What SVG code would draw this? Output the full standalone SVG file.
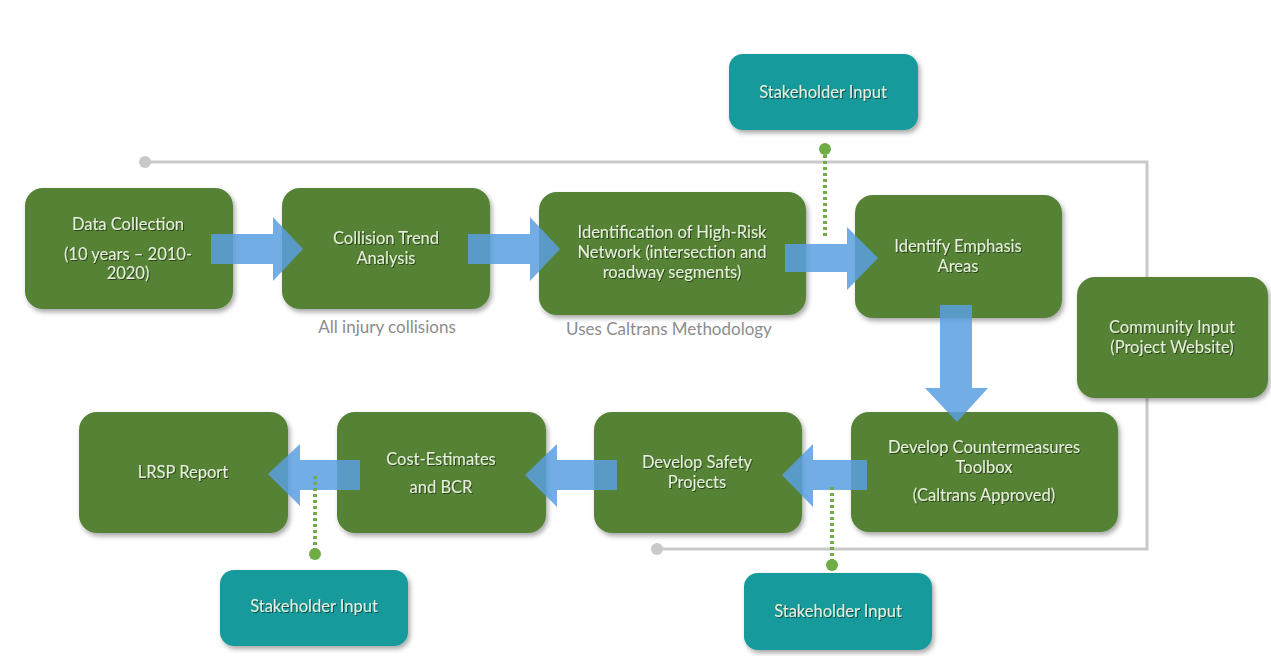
<svg xmlns="http://www.w3.org/2000/svg" width="1271" height="656" viewBox="0 0 1271 656">
<defs>
<filter id="sh" x="-10%" y="-10%" width="130%" height="140%">
<feDropShadow dx="2" dy="3" stdDeviation="2.5" flood-color="#000" flood-opacity="0.35"/>
</filter>
<filter id="ts" x="-5%" y="-20%" width="110%" height="150%">
<feDropShadow dx="1" dy="1" stdDeviation="0.6" flood-color="#000" flood-opacity="0.5"/>
</filter>
</defs>
<style>
.g{fill:#548235;filter:url(#sh)}
.t{fill:#149A9C;filter:url(#sh)}
.lb{font-family:Lato,"Open Sans",sans-serif;font-size:16.5px;fill:#E6F0DC;text-anchor:middle;filter:url(#ts)}
.cap{font-family:Lato,"Open Sans",sans-serif;font-size:17px;fill:#8C8C8C;text-anchor:middle}
.ar{fill:#5B9FE0;fill-opacity:0.85}
.gl{fill:none;stroke:#C9C9C9;stroke-width:3}
.gd{fill:#C9C9C9}
.dl{stroke:#70AD47;stroke-width:4;stroke-dasharray:3 3}
.dd{fill:#70AD47}
</style>
<rect width="1271" height="656" fill="#fff"/>
<g id="connectors">
<polyline class="gl" points="145,162 1147,162 1147,549 657,549"/>
<circle class="gd" cx="145" cy="162" r="6"/>
<circle class="gd" cx="657" cy="549" r="6"/>
</g>
<g id="n1"><rect class="g" x="25" y="188" width="208" height="121" rx="18"/>
<text class="lb" x="128" y="230">Data Collection</text>
<text class="lb" x="128" y="260">(10 years – 2010-</text>
<text class="lb" x="128" y="279">2020)</text></g>
<g id="n2"><rect class="g" x="282" y="188" width="208" height="121" rx="18"/>
<text class="lb" x="386" y="244">Collision Trend</text>
<text class="lb" x="386" y="264">Analysis</text></g>
<text class="cap" x="387" y="333">All injury collisions</text>
<g id="n3"><rect class="g" x="539" y="192" width="267" height="123" rx="18"/>
<text class="lb" x="672" y="238">Identification of High-Risk</text>
<text class="lb" x="672" y="258">Network  (intersection and</text>
<text class="lb" x="672" y="278">roadway segments)</text></g>
<text class="cap" x="669" y="335">Uses Caltrans Methodology</text>
<g id="n4"><rect class="g" x="855" y="195" width="207" height="123" rx="18"/>
<text class="lb" x="958" y="252">Identify Emphasis</text>
<text class="lb" x="958" y="272">Areas</text></g>
<g id="n5"><rect class="g" x="1077" y="277" width="191" height="121" rx="18"/>
<text class="lb" x="1172" y="333">Community Input</text>
<text class="lb" x="1172" y="353">(Project Website)</text></g>
<g id="n6"><rect class="g" x="851" y="412" width="267" height="120" rx="18"/>
<text class="lb" x="984" y="453">Develop Countermeasures</text>
<text class="lb" x="984" y="473">Toolbox</text>
<text class="lb" x="984" y="501">(Caltrans Approved)</text></g>
<g id="n7"><rect class="g" x="594" y="412" width="208" height="121" rx="18"/>
<text class="lb" x="697" y="468">Develop Safety</text>
<text class="lb" x="697" y="488">Projects</text></g>
<g id="n8"><rect class="g" x="337" y="412" width="209" height="121" rx="18"/>
<text class="lb" x="441" y="465">Cost-Estimates</text>
<text class="lb" x="441" y="493">and BCR</text></g>
<g id="n9"><rect class="g" x="79" y="412" width="209" height="121" rx="18"/>
<text class="lb" x="183" y="478">LRSP Report</text></g>
<g id="s1"><rect class="t" x="729" y="54" width="189" height="76" rx="14"/>
<text class="lb" x="823" y="98">Stakeholder  Input</text></g>
<g id="s2"><rect class="t" x="220" y="570" width="188" height="76" rx="14"/>
<text class="lb" x="314" y="612">Stakeholder  Input</text></g>
<g id="s3"><rect class="t" x="744" y="573" width="188" height="77" rx="14"/>
<text class="lb" x="838" y="617">Stakeholder  Input</text></g>
<g id="arrows">
<polygon class="ar" points="211,234 273,234 273,217 303,249 273,281 273,264 211,264"/>
<polygon class="ar" points="468,234 530,234 530,217 560,249 530,281 530,264 468,264"/>
<polygon class="ar" points="785,244 847,244 847,227 878,258 847,290 847,272 785,272"/>
<polygon class="ar" points="940,305 972,305 972,388 988,388 957,422 925,388 940,388"/>
<polygon class="ar" points="867,460 813,460 813,444 782,475 813,507 813,490 867,490"/>
<polygon class="ar" points="617,460 557,460 557,444 525,475 557,507 557,490 617,490"/>
<polygon class="ar" points="360,460 300,460 300,444 268,474 300,506 300,490 360,490"/>
</g>
<g id="dotted">
<line class="dl" x1="825" y1="155" x2="825" y2="238"/>
<circle class="dd" cx="825" cy="149" r="6"/>
<line class="dl" x1="315" y1="476" x2="315" y2="549"/>
<circle class="dd" cx="315" cy="554" r="6"/>
<line class="dl" x1="832" y1="487" x2="832" y2="560"/>
<circle class="dd" cx="832" cy="565" r="6"/>
</g>
</svg>
